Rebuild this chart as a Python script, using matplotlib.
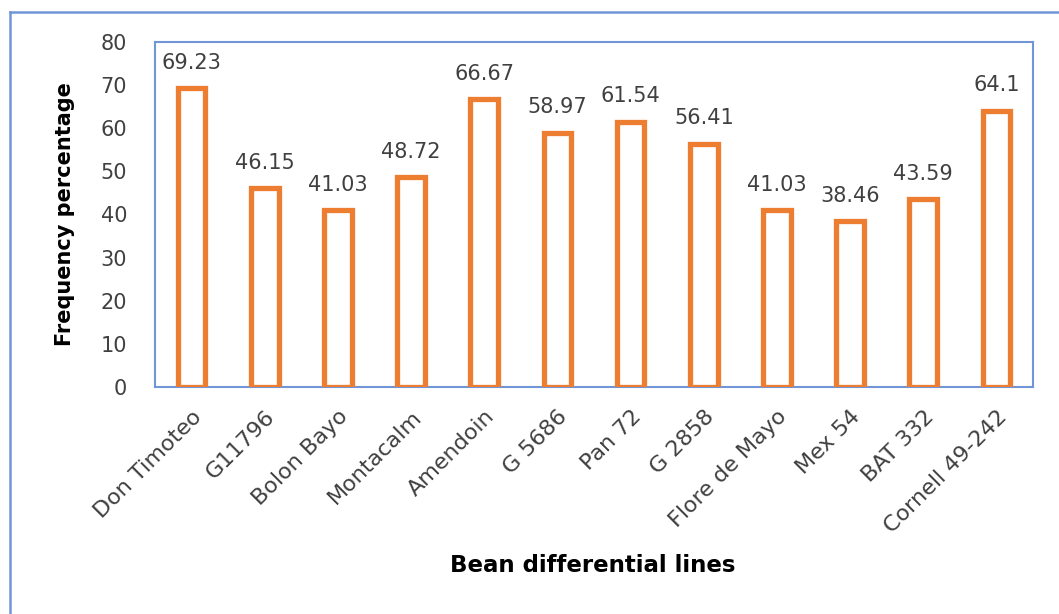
import matplotlib
matplotlib.use("Agg")
import matplotlib.pyplot as plt
from matplotlib.lines import Line2D

categories = ["Don Timoteo", "G11796", "Bolon Bayo", "Montacalm", "Amendoin", "G 5686",
              "Pan 72", "G 2858", "Flore de Mayo", "Mex 54", "BAT 332", "Cornell 49-242"]
values = [69.23, 46.15, 41.03, 48.72, 66.67, 58.97, 61.54, 56.41, 41.03, 38.46, 43.59, 64.1]
labels = ["69.23", "46.15", "41.03", "48.72", "66.67", "58.97", "61.54", "56.41",
          "41.03", "38.46", "43.59", "64.1"]
yticks = [0, 10, 20, 30, 40, 50, 60, 70, 80]

plt.rcParams['font.family'] = ['DejaVu Sans']

W, H = 1059, 614
fig = plt.figure(figsize=(W / 100, H / 100), dpi=100)
ax = fig.add_axes([155 / W, 1 - 387 / H, (1033 - 155) / W, (387 - 42) / H])

orange = "#ED7D31"
blue = "#7096D8"
txt = "#404040"
x = list(range(len(categories)))
ax.bar(x, values, width=0.38, facecolor="white", edgecolor=orange, linewidth=3.8, zorder=3)

for xi, v, lab in zip(x, values, labels):
    ax.annotate(lab, (xi, v), xytext=(0, 11), textcoords="offset points",
                ha="center", va="bottom", fontsize=15, color=txt)

ax.set_xlim(-0.5, len(categories) - 0.5)
ax.set_ylim(0, 80)
ax.set_yticks(yticks)
ax.set_xticks(x)
ax.set_xticklabels(categories, rotation=45, ha="right", rotation_mode="anchor",
                   fontsize=16, color=txt)
ax.tick_params(axis="y", labelsize=15, labelcolor=txt, length=0, pad=20)
ax.tick_params(axis="x", length=0, pad=14)
for s in ax.spines.values():
    s.set_color(blue)
    s.set_linewidth(1.5)

ax.set_ylabel("Frequency percentage", fontsize=15, fontweight="bold", color="black")
ax.yaxis.set_label_coords((75 - 155) / 878, 0.5)
fig.text(593 / W, 1 - 565 / H, "Bean differential lines", fontsize=16.5, fontweight="bold",
         ha="center", va="center", color="black")

# outer border (left and top visible)
fig.add_artist(Line2D([10 / W, 10 / W], [0, 1 - 12 / H], color=blue, lw=1.8,
                      transform=fig.transFigure))
fig.add_artist(Line2D([10 / W, 1], [1 - 12 / H, 1 - 12 / H], color=blue, lw=1.8,
                      transform=fig.transFigure))

fig.savefig("out.png", dpi=100)
